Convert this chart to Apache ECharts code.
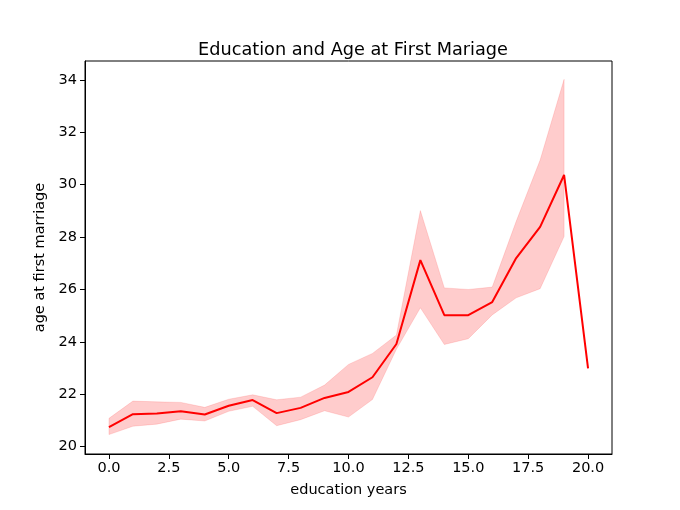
<!DOCTYPE html>
<html>
<head>
<meta charset="utf-8">
<script src="https://cdn.jsdelivr.net/npm/echarts@6/dist/echarts.min.js"></script>
<style>html,body{margin:0;padding:0;background:#fff}#c{width:680px;height:510px}</style>
</head>
<body>
<div id="c"></div>
<script>
var years = [0,1,2,3,4,5,6,7,8,9,10,11,12,13,14,15,16,17,18,19,20];
var meanAge = [20.75,21.24,21.27,21.35,21.23,21.56,21.78,21.28,21.48,21.86,22.09,22.65,23.92,27.12,25.02,25.02,25.52,27.2,28.39,30.37,22.99];
var upperAge = [21.08,21.74,21.71,21.69,21.5,21.81,21.98,21.79,21.89,22.35,23.14,23.56,24.26,29.01,26.06,26.0,26.09,28.6,30.94,34.02,null];
var lowerAge = [20.46,20.78,20.86,21.05,20.98,21.35,21.54,20.8,21.03,21.37,21.13,21.8,23.72,25.3,23.9,24.12,25.03,25.68,26.03,28.02,null];
var xTicks = [0,2.5,5,7.5,10,12.5,15,17.5,20];
var yTicks = [20,22,24,26,28,30,32,34];

var font = 'DejaVu Sans';
var meanData = [];
for (var i = 0; i < years.length; i++) meanData.push([years[i], meanAge[i]]);

function renderBand(params, api) {
  var up = [], lo = [];
  for (var i = 0; i < years.length; i++) {
    if (upperAge[i] == null) continue;
    up.push(api.coord([years[i], upperAge[i]]));
    lo.push(api.coord([years[i], lowerAge[i]]));
  }
  var pts = up.concat(lo.reverse());
  return {
    type: 'polygon',
    shape: {points: pts},
    style: {fill: 'rgba(255,0,0,0.2)', stroke: 'rgba(255,0,0,0.12)', lineWidth: 1}
  };
}

var chart = echarts.init(document.getElementById('c'), null, {renderer: 'canvas'});
chart.setOption({
  animation: false,
  backgroundColor: '#fff',
  title: {
    text: 'Education and Age at First Mariage',
    left: 348, top: 36, textAlign: 'center',
    textStyle: {fontFamily: font, fontSize: 17.7, fontWeight: 'normal', color: '#000'}
  },
  grid: {left: 85, right: 68, top: 61, bottom: 56, show: true, borderColor: '#000', borderWidth: 1, backgroundColor: 'transparent'},
  xAxis: {
    type: 'value', min: -1, max: 21,
    name: 'education years', nameLocation: 'middle', nameGap: 29,
    nameTextStyle: {fontFamily: font, fontSize: 14.5, color: '#000'},
    axisLine: {show: true, onZero: false, lineStyle: {color: '#000', width: 1}},
    axisTick: {show: true, length: 5, customValues: xTicks, lineStyle: {color: '#000'}},
    axisLabel: {customValues: xTicks, margin: 7, fontFamily: font, fontSize: 14.5, color: '#000',
      formatter: function (v) { return v.toFixed(1); }},
    splitLine: {show: false}
  },
  yAxis: {
    type: 'value', min: 19.72, max: 34.72,
    name: 'age at first marriage', nameLocation: 'middle', nameGap: 36,
    nameTextStyle: {fontFamily: font, fontSize: 14.5, color: '#000'},
    axisLine: {show: true, onZero: false, lineStyle: {color: '#000', width: 1}},
    axisTick: {show: true, length: 5, customValues: yTicks, lineStyle: {color: '#000'}},
    axisLabel: {customValues: yTicks, margin: 8, fontFamily: font, fontSize: 14.5, color: '#000'},
    splitLine: {show: false}
  },
  series: [
    {type: 'custom', data: [[0, 0]], renderItem: renderBand, silent: true, clip: true, z: 1},
    {type: 'line', data: meanData, symbol: 'none', silent: true,
      lineStyle: {color: '#ff0000', width: 2}, itemStyle: {color: '#ff0000'}, z: 3}
  ]
});
</script>
</body>
</html>
